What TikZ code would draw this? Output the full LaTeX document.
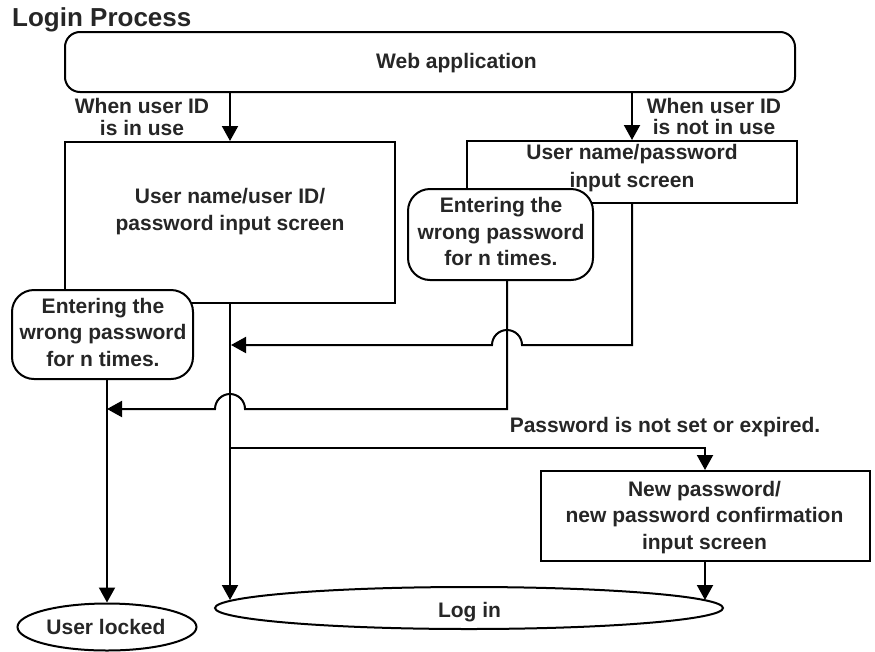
\documentclass[tikz,border=0pt]{standalone}
\usepackage{fontspec}
\setmainfont{Liberation Sans}
\usetikzlibrary{arrows.meta,shapes.geometric}
\begin{document}
\begin{tikzpicture}[x=1pt,y=-1pt,
  every node/.style={font=\bfseries\fontsize{21}{26.5}\selectfont, text=black!85, inner sep=0pt},
  boxs/.style={draw=black, line width=2pt, fill=white},
  arr/.style={line width=2pt, -{Triangle[length=15pt,width=16pt]}},
  lbl/.style={font=\bfseries\fontsize{21}{21.5}\selectfont, align=center},
  txt/.style={align=center}]
\useasboundingbox (0,0) rectangle (875,651);

% title
\node[anchor=base west, font=\bfseries\fontsize{26}{30}\selectfont] (title) at (12,26) {Login Process};

% top box
\node[boxs, rounded corners=15pt, minimum width=730pt, minimum height=60pt] (web) at (430,62) {};
\node[anchor=base] (webt) at (456.5,68) {Web application};

% input screens
\node[boxs, minimum width=330pt, minimum height=161pt] (box1) at (230,222.5) {};
\node[txt] (box1t) at (230,211.5) {User name/user ID/\\password input screen};
\node[boxs, minimum width=330pt, minimum height=62pt] (box2) at (632,172) {};
\node[txt] (box2t) at (632,168.5) {User name/password\\[1.5pt]input screen};
\node[boxs, minimum width=329pt, minimum height=90pt] (box3) at (705,516) {};
\node[txt] (box3t) at (704.5,517.5) {New password/\\new password confirmation\\input screen};

% branch labels
\node[lbl] (inuse) at (142,116.8) {When user ID\\is in use};
\node[lbl] (notinuse) at (714,116.4) {When user ID\\is not in use};
\node[anchor=base] (expired) at (665,432) {Password is not set or expired.};

% end states
\node[boxs, ellipse, minimum width=508pt, minimum height=42pt] (login) at (469,608) {};
\node[anchor=base] (logint) at (469.5,617) {Log in};
\node[boxs, ellipse, minimum width=179pt, minimum height=47pt] (locked) at (107,627) {};
\node[anchor=base] (lockedt) at (106,634) {User locked};

% junction points
\coordinate (jA) at (231,345);
\coordinate (rBend) at (632,345);
\coordinate (hopA) at (522,345);
\coordinate (rTurn) at (507,409);
\coordinate (hopB) at (245,409);
\coordinate (lJoin) at (107,409);
\coordinate (jB) at (230,448);
\coordinate (nTurn) at (705,448);
\coordinate (logA) at (230,600);
\coordinate (logB) at (705,600);

% connectors
\draw[arr] (web.south -| box1.north) -- (box1.north);
\draw[arr] (web.south -| box2.north) -- (box2.north);
\draw[arr] (box2.south) -- (rBend) -- (hopA) arc[start angle=0, end angle=180, radius=15pt] -- (jA);
\draw[arr] (box1.south) -- (logA);
\draw[arr] (jB) -- (nTurn) -- (box3.north);
\draw[arr] (box3.south) -- (logB);

% lock-out boxes drawn over the screens
\node[boxs, rounded corners=22pt, minimum width=181pt, minimum height=89pt] (wrongL) at (102.5,334.5) {};
\node[txt] (wrongLt) at (103,332.4) {Entering the\\wrong password\\for n times.};
\node[boxs, rounded corners=22pt, minimum width=185pt, minimum height=91pt] (wrongR) at (500.5,234.5) {};
\node[txt] (wrongRt) at (501,231.8) {Entering the\\wrong password\\for n times.};

\draw[arr] (wrongR.south -| rTurn) -- (rTurn) -- (hopB) arc[start angle=0, end angle=180, radius=15pt] -- (lJoin);
\draw[arr] (wrongL.south -| locked.north) -- (locked.north);
\end{tikzpicture}
\end{document}
